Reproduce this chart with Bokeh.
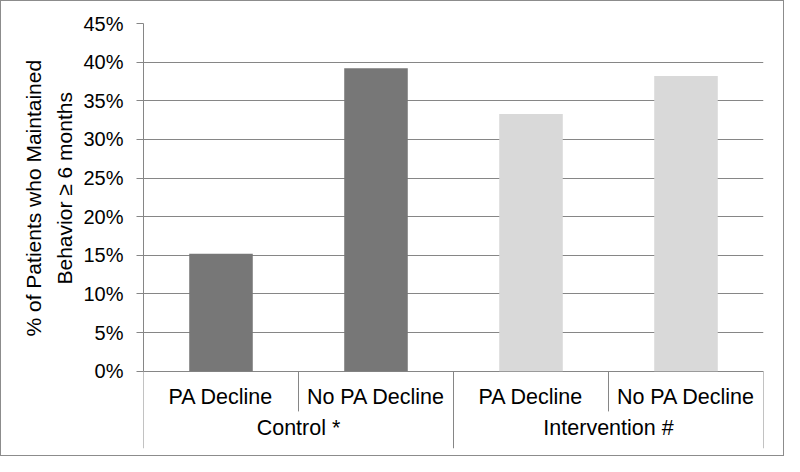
from bokeh.plotting import figure
from bokeh.models import FactorRange, Range1d, FixedTicker, NumeralTickFormatter, ColumnDataSource, Title
from bokeh.core.properties import value
from bokeh.embed import file_html
from bokeh.resources import INLINE

groups = ["Control *", "Intervention #"]
subgroups = ["PA Decline", "No PA Decline"]
values = [0.152, 0.392, 0.333, 0.382]
group_colors = {"Control *": "#777777", "Intervention #": "#D9D9D9"}
y_ticks = [0.0, 0.05, 0.10, 0.15, 0.20, 0.25, 0.30, 0.35, 0.40, 0.45]
y_title_lines = ["% of Patients who Maintained", "Behavior \u2265 6 months"]

factors = [(g, s) for g in groups for s in subgroups]
FONT = "Liberation Sans"
GRID = "#868686"

p = figure(
    width=784, height=456,
    x_range=FactorRange(factors=factors, factor_padding=0, group_padding=0, range_padding=0),
    y_range=Range1d(-0.10, 0.45),
    x_axis_location=None,
    output_backend="svg", toolbar_location=None,
    min_border_left=142, min_border_right=22, min_border_top=22, min_border_bottom=9,
)
p.styles = {"border": "1px solid #8c8c8c"}
p.outline_line_color = None
p.background_fill_color = "white"
p.border_fill_color = "white"

# bars
src = ColumnDataSource(dict(
    x=factors, top=values,
    color=[group_colors[g] for g, s in factors],
))
p.vbar(x="x", top="top", bottom=0, width=0.41, source=src, fill_color="color", line_color=None)

# y axis
p.yaxis.bounds = (y_ticks[0], y_ticks[-1])
p.yaxis.ticker = FixedTicker(ticks=y_ticks)
p.yaxis.formatter = NumeralTickFormatter(format="0%")
p.yaxis.major_label_text_font = FONT
p.yaxis.major_label_text_font_size = "20px"
p.yaxis.major_label_text_color = "#000000"
p.yaxis.major_label_standoff = 13
p.yaxis.major_tick_out = 7
p.yaxis.major_tick_in = 0
p.yaxis.minor_tick_out = 0
p.yaxis.minor_tick_in = 0
p.yaxis.axis_line_color = GRID
p.yaxis.major_tick_line_color = GRID

# y-axis title: two lines, each starting so that it is centred on the 0..45% span
# (second line sits next to the axis, so it is added first)
for line, off, so in zip(reversed(y_title_lines), [164, 112], [10, 2]):
    p.add_layout(Title(
        text=line, align="left", offset=off, standoff=so,
        text_font=FONT, text_font_size="21px", text_font_style="normal",
        text_color="#000000",
    ), "left")

p.ygrid.ticker = FixedTicker(ticks=y_ticks)
p.ygrid.grid_line_color = GRID
p.ygrid.grid_line_width = 1
if p.xgrid:
    p.xgrid.visible = False

# category separators below the baseline
sub_x = [(g, subgroups[0], 0.5) for g in groups]
p.segment(x0=sub_x, x1=sub_x, y0=[0] * len(sub_x), y1=[-0.052] * len(sub_x),
          line_color=GRID, line_width=1)
grp_x = [(groups[0], subgroups[0], -0.5)] + [(g, subgroups[-1], 0.5) for g in groups]
p.segment(x0=grp_x, x1=grp_x, y0=[0] * len(grp_x), y1=[-0.10] * len(grp_x),
          line_color=GRID, line_width=1)

# category labels
p.text(x=factors, y=[-0.033] * len(factors), text=[s for g, s in factors],
       text_font=value(FONT), text_font_size="21.5px", text_color="#000000",
       text_align="center", text_baseline="middle")
p.text(x=groups, y=[-0.073] * len(groups), text=groups,
       text_font=value(FONT), text_font_size="21.5px", text_color="#000000",
       text_align="center", text_baseline="middle")

open("out.html", "w").write(file_html(p, INLINE))
